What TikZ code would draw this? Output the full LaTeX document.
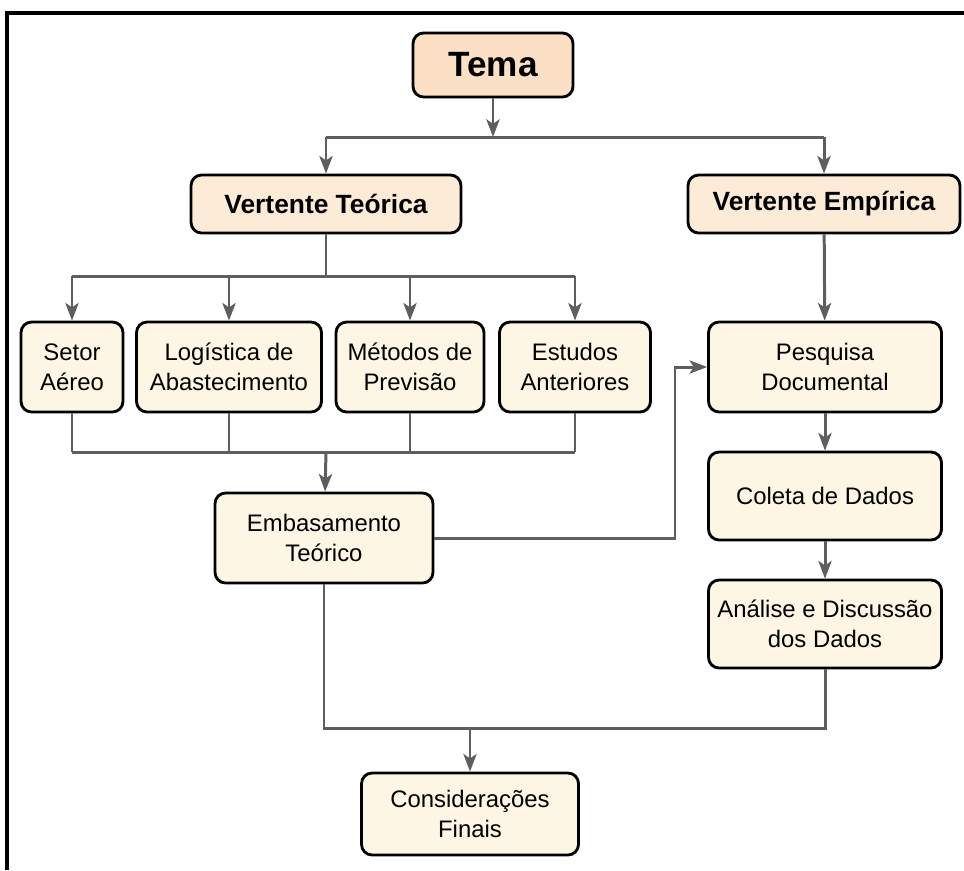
\documentclass[tikz,border=0pt]{standalone}
\usepackage{fontspec}
\setmainfont{Liberation Sans}
\usetikzlibrary{arrows.meta}

\definecolor{pessego}{HTML}{FBE0C6}
\definecolor{pessegoclaro}{HTML}{FCEBD6}
\definecolor{creme}{HTML}{FDF6E4}
\definecolor{cinza}{HTML}{5E5E5E}

\tikzset{
    caixa/.style={draw=black, line width=1.6pt, rounded corners=6pt, fill=creme,
        align=center, inner sep=2pt, minimum height=1.8cm,
        font=\fontsize{13.6}{17}\selectfont},
    titulo/.style={caixa, fill=pessegoclaro, minimum height=1.16cm,
        font=\fontsize{15}{18}\selectfont\bfseries},
    conn/.style={draw=cinza, line width=1.7pt},
}

\begin{document}
\begin{tikzpicture}[x=0.02cm, y=-0.02cm, >={Stealth[length=10pt, width=7.5pt, inset=2.5pt]}]
    % 1. Moldura e área do desenho
    \useasboundingbox (0,0) rectangle (964,870);
    \draw[line width=1.8pt, black] (7,870) -- (7,13) -- (964,13);

    % 2. Tema e vertentes
    \node[caixa, fill=pessego, minimum width=3.2cm, minimum height=1.28cm,
        font=\fontsize{20}{24}\selectfont\bfseries] (tema) at (493,65) {Tema};
    \node[titulo, minimum width=5.4cm] (vt) at (326,204) {Vertente Teórica};
    \node[titulo, minimum width=5.44cm] (ve) at (824,204) {Vertente Empírica};

    % 3. Blocos da vertente teórica
    \node[caixa, minimum width=2.04cm] (setor) at (72,367) {Setor\\Aéreo};
    \node[caixa, minimum width=3.7cm] (logistica) at (229,367) {Logística de\\Abastecimento};
    \node[caixa, minimum width=2.96cm] (metodos) at (410,367) {Métodos de\\Previsão};
    \node[caixa, minimum width=3.02cm] (estudos) at (575,367) {Estudos\\Anteriores};
    \node[caixa, minimum width=4.36cm] (emb) at (324,538) {Embasamento\\Teórico};

    % 4. Blocos da vertente empírica
    \node[caixa, minimum width=4.66cm] (pesq) at (825,367) {Pesquisa\\Documental};
    \node[caixa, minimum width=4.66cm, minimum height=1.76cm] (coleta) at (825,496) {Coleta de Dados};
    \node[caixa, minimum width=4.66cm, minimum height=1.76cm] (analise) at (825,624) {Análise e Discussão\\dos Dados};
    \node[caixa, minimum width=4.34cm, minimum height=1.64cm] (consid) at (470,814) {Considerações\\Finais};

    % 5. Pontos de junção
    \coordinate (jt) at (493,137);
    \coordinate (jv) at (326,276);
    \coordinate (je) at (326,452);
    \coordinate (jd) at (675,0);
    \coordinate (jf) at (470,728);

    % 6. Ligações
    \draw[conn, ->] (tema) -- (jt);
    \draw[conn] (jt -| vt) -- (jt -| ve);
    \draw[conn, ->] (jt -| vt) -- (vt);
    \draw[conn, ->] (jt -| ve) -- (ve);

    \draw[conn] (vt) -- (jv);
    \draw[conn] (jv -| setor) -- (jv -| estudos);
    \foreach \n in {setor, logistica, metodos, estudos}
        \draw[conn, ->] (jv -| \n) -- (\n);

    \foreach \n in {setor, logistica, metodos, estudos}
        \draw[conn] (\n) -- (je -| \n);
    \draw[conn] (je -| setor) -- (je -| estudos);
    \draw[conn, ->] (je) -- (emb);

    \draw[conn, ->] (emb.east) -- (emb.east -| jd) -- (jd |- pesq.west) -- (pesq.west);

    \draw[conn, ->] (ve) -- (pesq);
    \draw[conn, ->] (pesq) -- (coleta);
    \draw[conn, ->] (coleta) -- (analise);

    \draw[conn] (emb) -- (emb |- jf) -- (analise |- jf) -- (analise);
    \draw[conn, ->] (jf) -- (consid);
\end{tikzpicture}
\end{document}
